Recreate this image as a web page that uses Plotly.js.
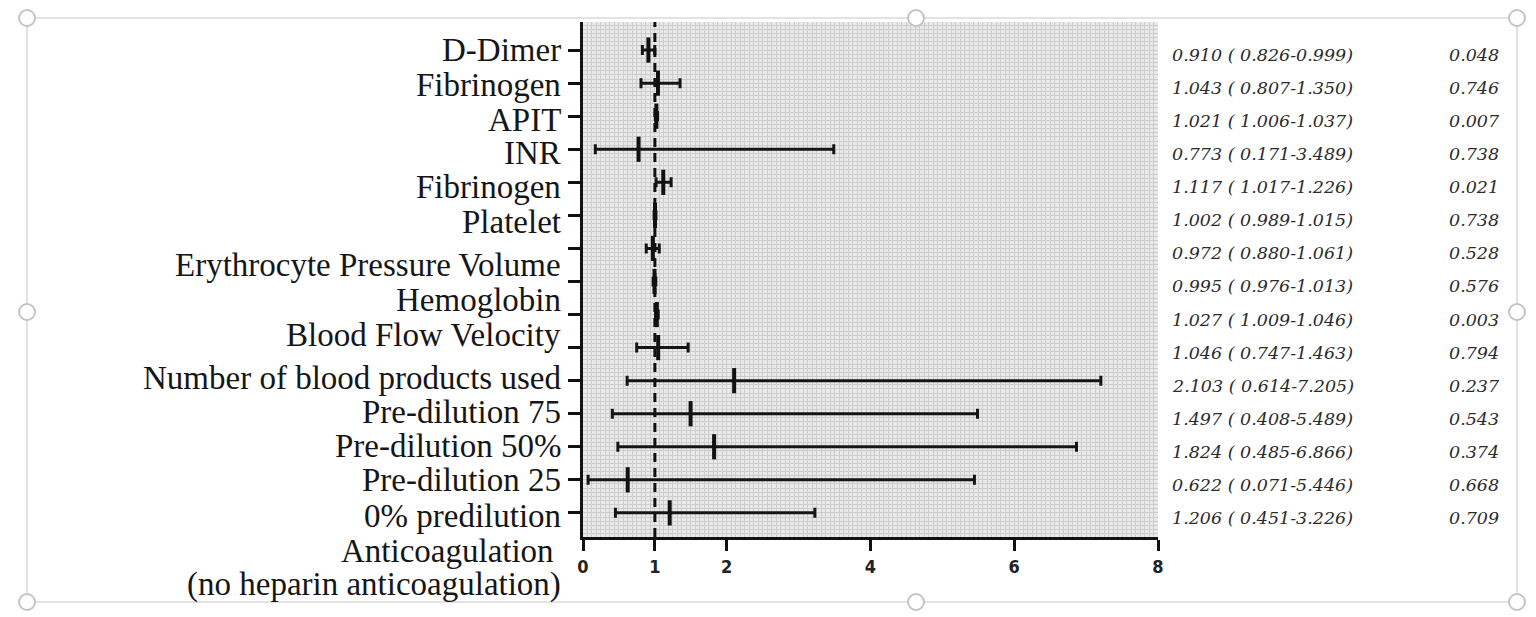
<!DOCTYPE html>
<html>
<head>
<meta charset="utf-8">
<script src="https://cdn.plot.ly/plotly-3.0.1.min.js"></script>
<style>
  html, body { margin: 0; padding: 0; background: #ffffff; }
  #chart { width: 1536px; height: 617px; }
</style>
</head>
<body>
<div id="chart"></div>
<script>
// ---- data ----
const rowLabels = [
  "D-Dimer", "Fibrinogen", "APIT", "INR", "Fibrinogen", "Platelet",
  "Erythrocyte Pressure Volume", "Hemoglobin", "Blood Flow Velocity",
  "Number of blood products used", "Pre-dilution 75", "Pre-dilution 50%",
  "Pre-dilution 25", "0% predilution",
  "Anticoagulation<br>(no heparin anticoagulation)"
];
const oddsRatio = [0.910, 1.043, 1.021, 0.773, 1.117, 1.002, 0.972, 0.995, 1.027, 1.046, 2.103, 1.497, 1.824, 0.622, 1.206];
const ciLower   = [0.826, 0.807, 1.006, 0.171, 1.017, 0.989, 0.880, 0.976, 1.009, 0.747, 0.614, 0.408, 0.485, 0.071, 0.451];
const ciUpper   = [0.999, 1.350, 1.037, 3.489, 1.226, 1.015, 1.061, 1.013, 1.046, 1.463, 7.205, 5.489, 6.866, 5.446, 3.226];
const pValues   = ["0.048", "0.746", "0.007", "0.738", "0.021", "0.738", "0.528", "0.576", "0.003", "0.794", "0.237", "0.543", "0.374", "0.668", "0.709"];
const xTickVals = [0, 1, 2, 4, 6, 8];
const referenceOR = 1;

// ---- layout constants ----
// label anchor positions (in row units) as they sit in the original figure
const labelRowPos = [1, 2.06, 3.12, 4.11, 5.14, 6.2, 7.5, 8.56, 9.62, 10.92, 11.95, 12.97, 14.0, 15.09, 16.66];
const W = 1536, H = 617;
const M = { l: 583, r: 378, t: 22, b: 80 };
const plotW = W - M.l - M.r, plotH = H - M.t - M.b;
const yRange = [15.73, 0.15];
const labelLineGap = 34;
const px2x = p => (p - M.l) / plotW;
const px2y = p => (H - M.b - p) / plotH;
const row2paper = r => (yRange[0] - r) / (yRange[0] - yRange[1]);

const rowIdx = oddsRatio.map((_, i) => i + 1);

const trace = {
  type: 'scatter',
  mode: 'markers',
  x: oddsRatio,
  y: rowIdx,
  marker: { symbol: 'line-ns-open', size: 18, color: '#111', line: { width: 4, color: '#111' } },
  error_x: {
    type: 'data', symmetric: false,
    array: ciUpper.map((u, i) => u - oddsRatio[i]),
    arrayminus: ciLower.map((l, i) => oddsRatio[i] - l),
    color: '#151515', thickness: 3, width: 5
  },
  hoverinfo: 'x+y',
  showlegend: false,
  cliponaxis: false
};

const annotations = [];
const labelFont = { family: 'Liberation Serif, Times New Roman, serif', size: 33, color: '#161616' };
rowLabels.forEach((lab, i) => {
  const lines = lab.split('<br>');
  lines.forEach((ln, k) => {
    const off = ((lines.length - 1) / 2 - k) * labelLineGap;
    annotations.push({
      xref: 'paper', yref: 'paper', x: 0, y: row2paper(labelRowPos[i]),
      xanchor: 'right', yanchor: 'middle',
      xshift: (lines.length > 1 && k === 0) ? -27 : -20, yshift: off,
      text: ln, showarrow: false, align: 'right', font: labelFont
    });
  });
});
const numFont = { family: 'DejaVu Serif, serif', size: 17.5, color: '#2b2b2b' };
oddsRatio.forEach((v, i) => {
  annotations.push({
    xref: 'paper', yref: 'y', x: px2x(1170), y: rowIdx[i], yshift: -5,
    xanchor: 'left', yanchor: 'middle', showarrow: false,
    text: '<i>' + v.toFixed(3) + ' ( ' + ciLower[i].toFixed(3) + '-' + ciUpper[i].toFixed(3) + ')</i>',
    font: numFont
  });
  annotations.push({
    xref: 'paper', yref: 'y', x: px2x(1447), y: rowIdx[i], yshift: -5,
    xanchor: 'left', yanchor: 'middle', showarrow: false,
    text: '<i>' + pValues[i] + '</i>',
    font: numFont
  });
});

// decorative selection frame (as in the screenshot)
const frame = { x0: 27, x1: 1517, y0: 18, y1: 602 };
const shapes = [
  {
    type: 'rect', xref: 'paper', yref: 'paper', layer: 'below',
    x0: px2x(frame.x0), x1: px2x(frame.x1), y0: px2y(frame.y1), y1: px2y(frame.y0),
    line: { color: '#e2e2e2', width: 2 }, fillcolor: 'rgba(0,0,0,0)'
  },
  {
    type: 'line', xref: 'x', yref: 'paper', x0: referenceOR, x1: referenceOR, y0: 0, y1: 1.0,
    line: { color: '#111', width: 3, dash: '9px,6px' }, layer: 'above'
  }
];
const handles = [[27, 18], [916, 18], [1517, 18], [27, 312], [1517, 312], [27, 602], [916, 602], [1517, 602]];
handles.forEach(([hx, hy]) => {
  shapes.push({
    type: 'circle', xref: 'paper', yref: 'paper',
    xsizemode: 'pixel', ysizemode: 'pixel',
    xanchor: px2x(hx), yanchor: px2y(hy),
    x0: -8, x1: 8, y0: -8, y1: 8,
    line: { color: '#c4c4c4', width: 2 }, fillcolor: '#ffffff'
  });
});

const layout = {
  width: W, height: H,
  margin: M,
  paper_bgcolor: '#ffffff',
  plot_bgcolor: '#e9e9e9',
  showlegend: false,
  xaxis: {
    range: [0, 8], tickmode: 'array', tickvals: xTickVals,
    ticks: 'outside', ticklen: 11, tickwidth: 3, tickcolor: '#111',
    showline: true, linewidth: 3, linecolor: '#111',
    showgrid: true, gridcolor: '#cdcdcd', gridwidth: 1, zeroline: false,
    minor: { tickmode: 'linear', tick0: 0, dtick: 0.0625, showgrid: true, gridcolor: '#cdcdcd', gridwidth: 1, ticks: '' },
    tickfont: { family: 'DejaVu Sans Condensed, DejaVu Sans, sans-serif', size: 18, color: '#222', weight: 'bold' },
    fixedrange: true
  },
  yaxis: {
    range: yRange, tickmode: 'array', tickvals: rowIdx,
    showticklabels: false,
    ticks: 'outside', ticklen: 12, tickwidth: 3, tickcolor: '#111',
    showline: true, linewidth: 3, linecolor: '#111',
    showgrid: false, zeroline: false,
    minor: { tickmode: 'linear', tick0: 0, dtick: 0.125, showgrid: true, gridcolor: '#cdcdcd', gridwidth: 1, ticks: '' },
    fixedrange: true
  },
  annotations: annotations,
  shapes: shapes
};

Plotly.newPlot('chart', [trace], layout, { displayModeBar: false, staticPlot: true });
</script>
</body>
</html>
